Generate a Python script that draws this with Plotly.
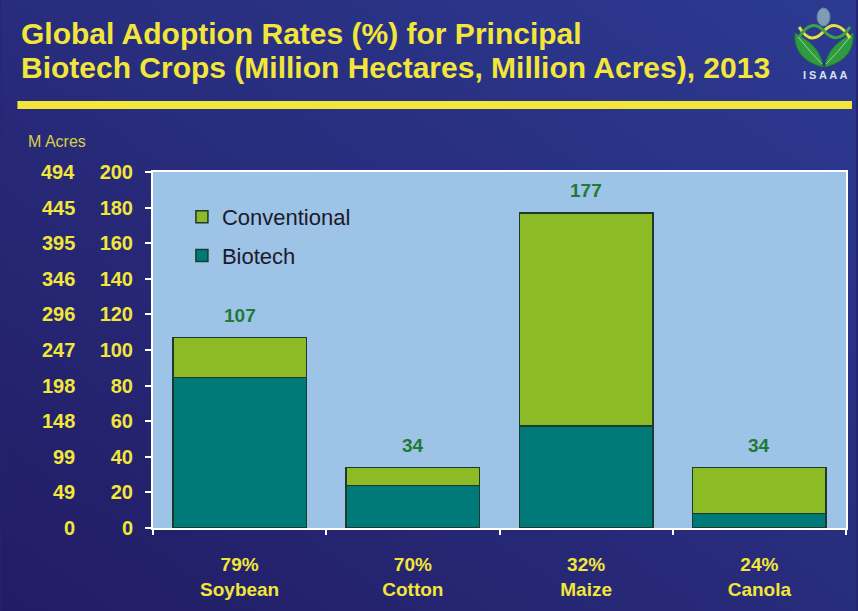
import base64
import plotly.graph_objects as go

# ---- data -------------------------------------------------------------
crops = ["Soybean", "Cotton", "Maize", "Canola"]
adoption_pct = ["79%", "70%", "32%", "24%"]
total_mha = [107, 34, 177, 34]          # global crop area, million hectares
biotech_mha = [84.5, 23.9, 57.4, 8.2]   # biotech share of that area
conventional_mha = [t - b for t, b in zip(total_mha, biotech_mha)]

hectare_ticks = [0, 20, 40, 60, 80, 100, 120, 140, 160, 180, 200]
acre_labels = ["0", "49", "99", "148", "198", "247", "296", "346", "395", "445", "494"]

title_lines = [
    "Global Adoption Rates (%) for Principal",
    "Biotech Crops (Million Hectares, Million Acres), 2013",
]

# ---- styling ----------------------------------------------------------
FONT = "Liberation Sans, Arial, sans-serif"
YELLOW = "#F2E63A"
TEAL = "#007A79"
LIME = "#8DBB25"
OUTLINE = "#1D3A2E"
PLOT_BG = "#9DC3E6"
W, H = 858, 611
L, R, T, B = 153, 848, 172, 528     # plot area in pixels


def px(x):
    return (x - L) / (R - L)


def py(y):
    return (B - y) / (B - T)


def path(cmds):
    """Build an SVG path in paper units from pixel-space commands."""
    out = []
    for c in cmds:
        if isinstance(c, str):
            out.append(c)
        else:
            out.append(f"{px(c[0]):.5f},{py(c[1]):.5f}")
    return " ".join(out)


# page background: diagonal blue gradient
svg = f"""<svg xmlns='http://www.w3.org/2000/svg' width='{W}' height='{H}'>
<defs><linearGradient id='g' x1='1' y1='0' x2='0' y2='1'>
<stop offset='0' stop-color='#2C3A92'/><stop offset='0.5' stop-color='#282C7C'/>
<stop offset='1' stop-color='#221C64'/>
</linearGradient></defs><rect width='{W}' height='{H}' fill='url(#g)'/></svg>"""
bg_src = "data:image/svg+xml;base64," + base64.b64encode(svg.encode()).decode()

fig = go.Figure()
fig.add_trace(go.Bar(
    name="Biotech", x=crops, y=biotech_mha, width=0.77,
    marker=dict(color=TEAL, line=dict(color=OUTLINE, width=1.5)),
    legendgroup="biotech", legendrank=2, hoverinfo="skip",
))
fig.add_trace(go.Bar(
    name="Conventional", x=crops, y=conventional_mha, width=0.77,
    marker=dict(color=LIME, line=dict(color=OUTLINE, width=1.5)),
    legendgroup="conventional", legendrank=1, hoverinfo="skip",
))

annotations = []
# totals above each stack
for c, t in zip(crops, total_mha):
    annotations.append(dict(
        x=c, y=t, xref="x", yref="y", text=str(t), showarrow=False,
        yanchor="middle", yshift=22,
        font=dict(family=FONT, size=19, color="#1F7A35", weight="bold"),
    ))
# million-acre scale alongside the hectare axis
for v, lab in zip(hectare_ticks, acre_labels):
    annotations.append(dict(
        x=px(77), y=v, xref="paper", yref="y", text=lab, showarrow=False,
        xanchor="right", yanchor="middle",
        font=dict(family=FONT, size=20, color=YELLOW, weight="bold"),
    ))
annotations.append(dict(
    x=px(26), y=py(141), xref="paper", yref="paper", text="M Acres",
    showarrow=False, xanchor="left", yanchor="middle",
    font=dict(family=FONT, size=16, color="#D8D046"),
))
# title
for line, yc in zip(title_lines, [33, 68]):
    annotations.append(dict(
        x=px(19), y=py(yc), xref="paper", yref="paper", text=line,
        showarrow=False, xanchor="left", yanchor="middle",
        font=dict(family=FONT, size=30, color=YELLOW, weight="bold"),
    ))
# logo caption
annotations.append(dict(
    x=px(827), y=py(75), xref="paper", yref="paper", text="I S A A A",
    showarrow=False, xanchor="center", yanchor="middle",
    font=dict(family=FONT, size=11, color="#D9E2F2", weight="bold"),
))

shapes = [
    # plot area fill
    dict(type="rect", xref="paper", yref="paper", x0=0, x1=1, y0=0, y1=1,
         fillcolor=PLOT_BG, line=dict(width=0), layer="below"),
    # yellow rule under the title
    dict(type="rect", xref="paper", yref="paper",
         x0=px(17), x1=px(854), y0=py(109), y1=py(101),
         fillcolor=YELLOW, line=dict(width=0), layer="above"),
    # logo: leaves
    dict(type="path", xref="paper", yref="paper", layer="above",
         path=path(["M", (825, 67), "C", (808, 63), (795, 52), (797, 33),
                    "C", (809, 40), (823, 48), (825, 67), "Z"]),
         fillcolor="#2F9A3F", line=dict(color="#1F7A30", width=1)),
    dict(type="path", xref="paper", yref="paper", layer="above",
         path=path(["M", (827, 67), "C", (844, 63), (857, 52), (855, 33),
                    "C", (843, 40), (829, 48), (827, 67), "Z"]),
         fillcolor="#2F9A3F", line=dict(color="#1F7A30", width=1)),
    dict(type="path", xref="paper", yref="paper", layer="above",
         path=path(["M", (824, 64), "Q", (812, 52), (800, 37)]),
         line=dict(color="#9FD39A", width=1)),
    dict(type="path", xref="paper", yref="paper", layer="above",
         path=path(["M", (828, 64), "Q", (840, 52), (852, 37)]),
         line=dict(color="#9FD39A", width=1)),
    # logo: helix strands
    dict(type="path", xref="paper", yref="paper", layer="above",
         path=path(["M", (801, 27), "C", (810, 42), (818, 40), (826, 31),
                    "C", (834, 22), (843, 24), (852, 38)]),
         line=dict(color="#E8E040", width=3)),
    dict(type="path", xref="paper", yref="paper", layer="above",
         path=path(["M", (801, 37), "C", (810, 23), (818, 23), (826, 31),
                    "C", (834, 40), (843, 41), (852, 27)]),
         line=dict(color="#3FA048", width=3)),
    # logo: globe
    dict(type="circle", xref="paper", yref="paper", layer="above",
         x0=px(819), x1=px(832), y0=py(26), y1=py(8),
         fillcolor="#7E9CB4", line=dict(color="#5F86A0", width=1)),
]

fig.update_layout(
    width=W, height=H, autosize=False,
    margin=dict(l=L, r=W - R, t=T, b=H - B, pad=0),
    paper_bgcolor="#25246F", plot_bgcolor="rgba(0,0,0,0)",
    barmode="stack", bargap=0.23,
    showlegend=True,
    legend=dict(
        x=px(182), y=py(196), xanchor="left", yanchor="top",
        bgcolor="rgba(0,0,0,0)", borderwidth=0,
        traceorder="grouped", tracegroupgap=7,
        font=dict(family=FONT, size=22, color="#1B1B2C"),
    ),
    images=[dict(source=bg_src, xref="paper", yref="paper",
                 x=px(0), y=py(0), sizex=W / (R - L), sizey=H / (B - T),
                 xanchor="left", yanchor="top", sizing="stretch",
                 layer="below")],
    shapes=shapes,
    annotations=annotations,
    xaxis=dict(
        range=[-0.5, 3.5], tickmode="array", tickvals=crops,
        ticktext=[f"{p}<br>{c}" for p, c in zip(adoption_pct, crops)],
        tickson="boundaries", ticks="outside", ticklen=5, tickwidth=2,
        tickcolor="white", showline=True, linecolor="white", linewidth=2,
        mirror=True, showgrid=False, zeroline=False, ticklabelstandoff=18,
        tickfont=dict(family=FONT, size=19, color=YELLOW, weight="bold"),
    ),
    yaxis=dict(
        range=[0, 200], tickmode="array", tickvals=hectare_ticks,
        ticks="outside", ticklen=6, tickwidth=2, tickcolor="white",
        showline=True, linecolor="white", linewidth=2, mirror=True,
        showgrid=False, zeroline=False, ticklabelstandoff=8,
        tickfont=dict(family=FONT, size=20, color=YELLOW, weight="bold"),
    ),
)

fig.write_html("out.html", config={"displayModeBar": False})
